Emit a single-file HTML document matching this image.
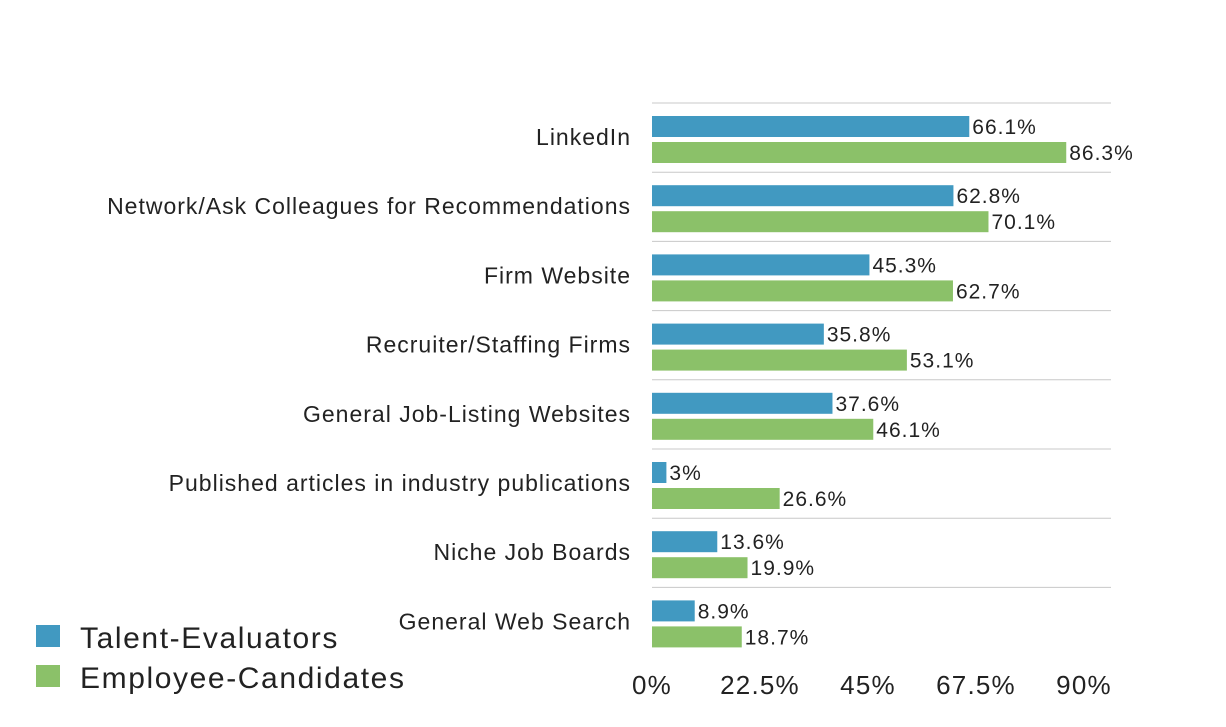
<!DOCTYPE html>
<html><head><meta charset="utf-8"><style>
body{margin:0;background:#fff;width:1226px;height:722px;overflow:hidden;font-family:"Liberation Sans",sans-serif}
</style></head><body>
<svg width="1226" height="722">
<g id="g"></g>
<g>
<rect x="36" y="625" width="24" height="22" fill="#4199c1"/>
<text x="80" y="648" font-size="30" letter-spacing="1.6" fill="#222">Talent-Evaluators</text>
<rect x="36" y="665" width="24" height="22" fill="#8bc169"/>
<text x="80" y="688" font-size="30" letter-spacing="1.6" fill="#222">Employee-Candidates</text>
</g>
</svg>
<script>
const categories=["LinkedIn","Network/Ask Colleagues for Recommendations","Firm Website","Recruiter/Staffing Firms","General Job-Listing Websites","Published articles in industry publications","Niche Job Boards","General Web Search"];
const talent=[66.1,62.8,45.3,35.8,37.6,3,13.6,8.9];
const employee=[86.3,70.1,62.7,53.1,46.1,26.6,19.9,18.7];
const ticks=[0,22.5,45,67.5,90];
const tickLabels=["0%","22.5%","45%","67.5%","90%"];
const g=document.getElementById('g');const NS="http://www.w3.org/2000/svg";
const x0=652,x1=1084,xmax=90,top0=103,rowH=69.2;
const x=v=>x0+(x1-x0)*v/xmax;
function el(t,a,txt){const e=document.createElementNS(NS,t);for(const k in a)e.setAttribute(k,a[k]);if(txt!==undefined)e.textContent=txt;g.appendChild(e);return e;}
categories.forEach((c,i)=>{
const y=top0+i*rowH;
const l=el('line',{x1:x0,x2:1111,y1:y,y2:y,stroke:'#c8c8c8','stroke-width':1});


const t=el('text',{x:631,y:y+42,'font-size':23,'letter-spacing':1.0,'text-anchor':'end',fill:'#222'},c);


const b1=el('rect',{x:x0,y:y+13,width:x(talent[i])-x0,height:21,fill:'#4199c1'});


const v1=el('text',{x:x(talent[i])+3,y:y+31,'font-size':21,'letter-spacing':1.0,fill:'#222'},talent[i]+'%');


const b2=el('rect',{x:x0,y:y+39,width:x(employee[i])-x0,height:21,fill:'#8bc169'});


const v2=el('text',{x:x(employee[i])+3,y:y+57,'font-size':21,'letter-spacing':1.0,fill:'#222'},employee[i]+'%');


});
ticks.forEach((v,i)=>{
const t=el('text',{x:x(v),y:694,'font-size':26,'letter-spacing':1.2,'text-anchor':'middle',fill:'#222'},tickLabels[i]);


});
</script>
</body></html>
